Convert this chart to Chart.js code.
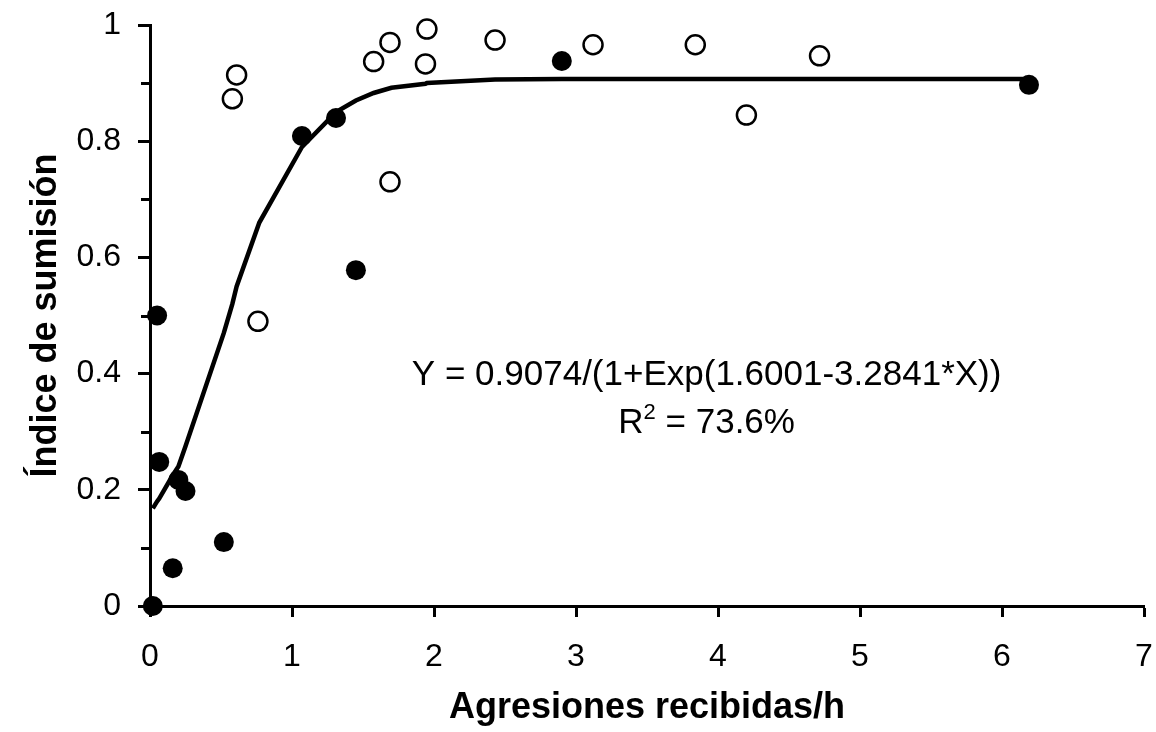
<!DOCTYPE html>
<html>
<head>
<meta charset="utf-8">
<script src="https://cdn.jsdelivr.net/npm/chart.js@4.4.1/dist/chart.umd.min.js"></script>
<style>
  body { margin: 0; background: #fff; }
  #wrap { width: 1156px; height: 732px; }
</style>
</head>
<body>
<div id="wrap"><canvas id="chart" width="1156" height="732"></canvas></div>
<script>
// Filled points
const filledX = [0.02, 0.05, 0.065, 0.16, 0.2, 0.25, 0.52, 1.07, 1.31, 1.45, 2.9, 6.19];
const filledY = [0.0, 0.5, 0.248, 0.065, 0.217, 0.198, 0.11, 0.809, 0.84, 0.578, 0.938, 0.897];

// Open points
const openX = [0.58, 0.61, 0.76, 1.575, 1.69, 1.69, 1.94, 1.95, 2.43, 3.12, 3.84, 4.2, 4.715];
const openY = [0.873, 0.914, 0.49, 0.937, 0.97, 0.73, 0.933, 0.993, 0.974, 0.966, 0.966, 0.845, 0.947];

// Fitted curve, vertices
const curveX = [0.02, 0.05, 0.065, 0.16, 0.2, 0.25, 0.52, 0.58, 0.61, 0.77, 1.07, 1.31, 1.45, 1.575, 1.7, 1.94, 1.95, 2.43, 2.9, 3.12, 3.84, 4.2, 4.715, 6.19];
const curveY = [0.168, 0.18, 0.185, 0.225, 0.24, 0.275, 0.47, 0.52, 0.55, 0.66, 0.79, 0.85, 0.87, 0.883, 0.892, 0.899, 0.9, 0.906, 0.907, 0.907, 0.907, 0.907, 0.907, 0.907];

// Axis ticks
const yMinorTicks = [0.1, 0.3, 0.5, 0.7, 0.9];

const equationText = 'Y = 0.9074/(1+Exp(1.6001-3.2841*X))';
const r2Label = 'R';
const r2Sup = '2';
const r2Value = ' = 73.6%';

const toPoints = (xs, ys) => xs.map((x, i) => ({ x: x, y: ys[i] }));

const FONT = "'Liberation Sans', Arial, sans-serif";
Chart.defaults.font.family = FONT;
Chart.defaults.color = '#000';

// short minor ticks on the y axis
const minorTicks = {
  id: 'minorTicks',
  afterDraw(chart) {
    const ctx = chart.ctx;
    const y = chart.scales.y;
    ctx.save();
    ctx.strokeStyle = '#000';
    ctx.lineWidth = 3;
    yMinorTicks.forEach(v => {
      const py = Math.round(y.getPixelForValue(v)) + 0.5;
      ctx.beginPath();
      ctx.moveTo(y.right - 9, py);
      ctx.lineTo(y.right, py);
      ctx.stroke();
    });
    ctx.restore();
  }
};

// equation and R^2 text
const fitText = {
  id: 'fitText',
  afterDatasetsDraw(chart) {
    const ctx = chart.ctx;
    const xs = chart.scales.x, ys = chart.scales.y;
    const cx = xs.getPixelForValue(3.92);
    const big = '35px ' + FONT;
    const supFont = '22px ' + FONT;
    ctx.save();
    ctx.fillStyle = '#000';
    ctx.textBaseline = 'alphabetic';
    ctx.font = big;
    ctx.textAlign = 'center';
    ctx.fillText(equationText, cx, ys.getPixelForValue(0.38));

    // R^2 line with superscript
    const by = ys.getPixelForValue(0.298);
    const wR = ctx.measureText(r2Label).width;
    const wV = ctx.measureText(r2Value).width;
    ctx.font = supFont;
    const wS = ctx.measureText(r2Sup).width;
    const x0 = cx - (wR + wS + wV) / 2;
    ctx.textAlign = 'left';
    ctx.font = big;
    ctx.fillText(r2Label, x0, by);
    ctx.font = supFont;
    ctx.fillText(r2Sup, x0 + wR, by - 14);
    ctx.font = big;
    ctx.fillText(r2Value, x0 + wR + wS, by);
    ctx.restore();
  }
};

const ctx = document.getElementById('chart').getContext('2d');
new Chart(ctx, {
  type: 'scatter',
  data: {
    datasets: [
      {
        label: 'filled',
        data: toPoints(filledX, filledY),
        backgroundColor: '#000',
        borderColor: '#000',
        borderWidth: 0,
        pointRadius: 10,
        clip: false,
        order: 1
      },
      {
        label: 'open',
        data: toPoints(openX, openY),
        backgroundColor: '#fff',
        borderColor: '#000',
        borderWidth: 2.5,
        pointRadius: 9.5,
        clip: false,
        order: 1
      },
      {
        label: 'fit',
        type: 'line',
        data: toPoints(curveX, curveY),
        borderColor: '#000',
        borderWidth: 4.5,
        pointRadius: 0,
        tension: 0,
        fill: false,
        showLine: true,
        order: 2
      }
    ]
  },
  options: {
    responsive: false,
    animation: false,
    layout: { padding: { left: 0, right: 10, top: 25, bottom: 0 } },
    plugins: {
      legend: { display: false },
      tooltip: { enabled: false }
    },
    scales: {
      x: {
        type: 'linear',
        min: 0,
        max: 7,
        afterFit: s => { s.height = 126; s.paddingLeft = 0; s.paddingRight = 0; },
        ticks: { stepSize: 1, font: { size: 32 }, padding: 21, color: '#000' },
        grid: { drawOnChartArea: false, drawTicks: true, tickLength: 11, tickWidth: 3, tickColor: '#000' },
        border: { display: true, color: '#000', width: 3 },
        title: {
          display: true,
          text: 'Agresiones recibidas/h',
          font: { size: 36, weight: 'bold' },
          padding: { top: 0, bottom: 2 }
        }
      },
      y: {
        min: 0,
        max: 1,
        afterFit: s => { s.width = 150; s.paddingTop = 0; s.paddingBottom = 0; },
        ticks: {
          stepSize: 0.2,
          font: { size: 32 },
          padding: 17,
          color: '#000',
          callback: v => String(Math.round(v * 10) / 10)
        },
        grid: { drawOnChartArea: false, drawTicks: true, tickLength: 12, tickWidth: 3, tickColor: '#000' },
        border: { display: true, color: '#000', width: 3 },
        title: {
          display: true,
          text: 'Índice de sumisión',
          font: { size: 36, weight: 'bold' },
          padding: { top: 24, bottom: 0 }
        }
      }
    }
  },
  plugins: [minorTicks, fitText]
});
</script>
</body>
</html>
